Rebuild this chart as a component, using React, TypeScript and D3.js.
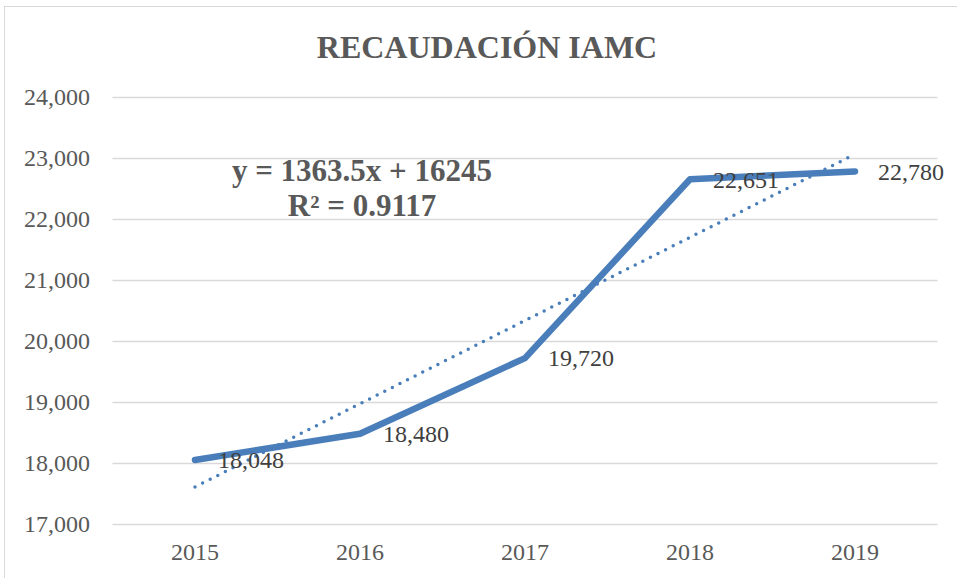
import React, { useEffect, useRef } from 'react';
import * as d3 from 'd3';

const years = ['2015', '2016', '2017', '2018', '2019'];
const recaudacion = [18048, 18480, 19720, 22651, 22780];
const yTicks = [17000, 18000, 19000, 20000, 21000, 22000, 23000, 24000];
// linear trend shown on the chart: y = 1363.5x + 16245
const trendSlope = 1363.5;
const trendIntercept = 16245;
const trendR2 = 0.9117;

const W = 957;
const H = 578;
const BLUE = '#4a7ebb';
const FONT = '"Liberation Serif", "Times New Roman", serif';

const App = () => {
  const ref = useRef<SVGSVGElement>(null);

  useEffect(() => {
    if (!ref.current) return;
    const svg = d3.select(ref.current);
    svg.selectAll('*').remove();

    const left = 112.5;
    const right = 937.5;
    const top = 97;
    const bottom = 524;

    const x = d3.scaleBand<string>().domain(years).range([left, right]);
    const y = d3.scaleLinear().domain([17000, 24000]).range([bottom, top]);
    const cx = (d: string) => (x(d) as number) + x.bandwidth() / 2;

    // chart frame
    svg.append('rect')
      .attr('x', 4.5).attr('y', 6.5)
      .attr('width', W + 20).attr('height', H + 20)
      .attr('fill', 'white')
      .attr('stroke', '#d9d9d9');

    svg.append('text')
      .attr('x', 487).attr('y', 58)
      .attr('text-anchor', 'middle')
      .style('font-family', FONT)
      .style('font-size', '32px')
      .style('font-weight', 'bold')
      .style('fill', '#595959')
      .text('RECAUDACIÓN IAMC');

    // gridlines + y labels
    const grid = svg.append('g');
    yTicks.forEach(t => {
      grid.append('line')
        .attr('x1', left).attr('x2', right)
        .attr('y1', Math.round(y(t)) + 0.5).attr('y2', Math.round(y(t)) + 0.5)
        .attr('stroke', '#d9d9d9')
        .attr('stroke-width', 1.5);
      grid.append('text')
        .attr('x', 90).attr('y', y(t))
        .attr('dy', '0.35em')
        .attr('text-anchor', 'end')
        .style('font-family', FONT)
        .style('font-size', '24px')
        .style('fill', '#595959')
        .text(d3.format(',')(t));
    });

    years.forEach(yr => {
      svg.append('text')
        .attr('x', cx(yr)).attr('y', 560)
        .attr('text-anchor', 'middle')
        .style('font-family', FONT)
        .style('font-size', '24px')
        .style('fill', '#595959')
        .text(yr);
    });

    const line = d3.line<number>()
      .x((_, i) => cx(years[i]))
      .y(d => y(d));

    svg.append('path')
      .datum(recaudacion)
      .attr('d', line)
      .attr('fill', 'none')
      .attr('stroke', BLUE)
      .attr('stroke-width', 6.5)
      .attr('stroke-linejoin', 'round')
      .attr('stroke-linecap', 'round');

    const trend = years.map((_, i) => trendSlope * (i + 1) + trendIntercept);
    svg.append('path')
      .datum(trend)
      .attr('d', line)
      .attr('fill', 'none')
      .attr('stroke', BLUE)
      .attr('stroke-width', 3.5)
      .attr('stroke-dasharray', '0 8.5')
      .attr('stroke-linecap', 'round');

    recaudacion.forEach((v, i) => {
      svg.append('text')
        .attr('x', cx(years[i]) + 23).attr('y', y(v))
        .attr('dy', '0.35em')
        .style('font-family', FONT)
        .style('font-size', '24px')
        .style('fill', '#404040')
        .text(d3.format(',')(v));
    });

    const eq = svg.append('text')
      .attr('text-anchor', 'middle')
      .style('font-family', FONT)
      .style('font-size', '31px')
      .style('font-weight', 'bold')
      .style('fill', '#595959');
    eq.append('tspan').attr('x', 362).attr('y', 181)
      .text(`y = ${trendSlope}x + ${trendIntercept}`);
    eq.append('tspan').attr('x', 362).attr('y', 216)
      .text(`R² = ${trendR2}`);
  }, []);

  return (
    <svg ref={ref} width={W} height={H}
      style={{ position: 'absolute', left: 0, top: 0, background: 'white' }} />
  );
};

export default App;
